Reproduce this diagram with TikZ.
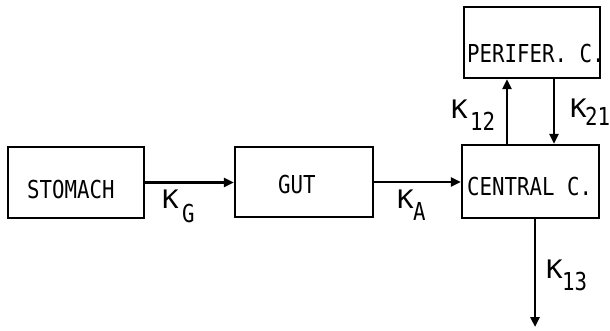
\documentclass[tikz,border=0pt]{standalone}
\usepackage{fontspec}
\newfontfamily\plotfont[FakeStretch=0.84]{DejaVu Sans Mono}
\newfontfamily\kfont[FakeStretch=1.08]{DejaVu Sans Mono}
\usetikzlibrary{arrows.meta}
\begin{document}
\begin{tikzpicture}[x=1pt,y=1pt,
  box/.style={draw,line width=2.4pt,minimum width=#1,inner sep=0pt,rectangle},
  txt/.style={anchor=base west,inner sep=0pt,font=\plotfont\fontsize{24.7}{28}\selectfont},
  ktxt/.style={anchor=base west,inner sep=0pt,font=\kfont\fontsize{25.5}{28}\selectfont},
  arr/.style={line width=2.4pt,-{Triangle[length=10pt,width=9pt]}}]
\useasboundingbox (0,0) rectangle (610,330);
% boxes (y = 330 - image y)
\node[box=136pt,minimum height=71pt] (stomach) at (76,147.5) {};
\node[box=138pt,minimum height=70pt] (gut) at (304,148) {};
\node[box=137pt,minimum height=73pt] (central) at (530.5,148.5) {};
\node[box=136pt,minimum height=71pt] (perif) at (532,287.5) {};
% box texts
\node[txt] (tstomach) at (27,132) {STOMACH};
\node[txt] (tgut) at (278,137) {GUT};
\node[txt] (tcentral) at (467,135) {CENTRAL C.};
\node[txt] (tperif) at (467,267) {PERIFER. C.};
% connectors
\coordinate (c12) at (507,0);
\coordinate (c21) at (554,0);
\coordinate (out) at (535,3);
\draw[arr] (stomach.east) -- (gut.west |- stomach.east);
\draw[arr] (gut.east) -- (central.west |- gut.east);
\draw[arr] (c12 |- central.north) -- (c12 |- perif.south);
\draw[arr] (c21 |- perif.south) -- (c21 |- central.north);
\draw[arr] (out |- central.south) -- (out);
% rate labels
\node[ktxt] (kg) at (162,122) {K};
\node[txt] (kgs) at (182,108) {G};
\node[ktxt] (ka) at (397,122) {K};
\node[txt] (kas) at (413,110) {A};
\node[ktxt] (k12) at (451,212) {K};
\node[txt] (k12s) at (470,200) {12};
\node[ktxt] (k21) at (570,213) {K};
\node[txt] (k21s) at (585,205) {21};
\node[ktxt] (k13) at (546,52) {K};
\node[txt] (k13s) at (562,40) {13};
\end{tikzpicture}
\end{document}
